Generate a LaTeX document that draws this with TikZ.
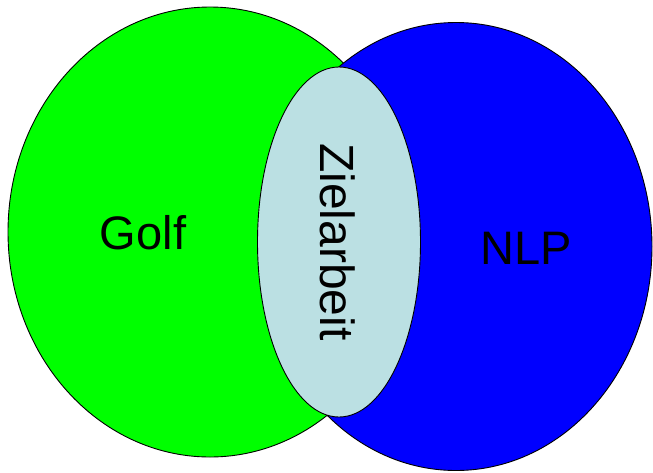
\documentclass[tikz,border=0pt]{standalone}
\usepackage{fontspec}
\setmainfont{Liberation Sans}
\usetikzlibrary{shapes.geometric}
\definecolor{zielblue}{RGB}{187,224,227}
\tikzset{set/.style={ellipse,draw=black,line width=0.9pt,inner sep=0pt},
  lbl/.style={font=\fontsize{47}{50}\selectfont,inner sep=0pt}}
\begin{document}
\begin{tikzpicture}[x=1pt,y=-1pt,line join=round]
\useasboundingbox (0,0) rectangle (653,472);
% the two sets
\node[set,fill=green,minimum width=404pt,minimum height=450pt] (golf) at (210,232) {};
\node[set,fill=blue,minimum width=392pt,minimum height=448pt] (nlp) at (456,246.5) {};
% overlap
\node[set,fill=zielblue,minimum width=163pt,minimum height=350pt] (ziel) at (339,242) {};
\node[lbl] (golftxt) at (143,233) {Golf};
\node[lbl] (nlptxt) at (526,248) {NLP};
\node[lbl,font=\fontsize{48}{50}\selectfont,rotate=-90] (zieltxt) at (338,242) {Zielarbeit};
\end{tikzpicture}
\end{document}
